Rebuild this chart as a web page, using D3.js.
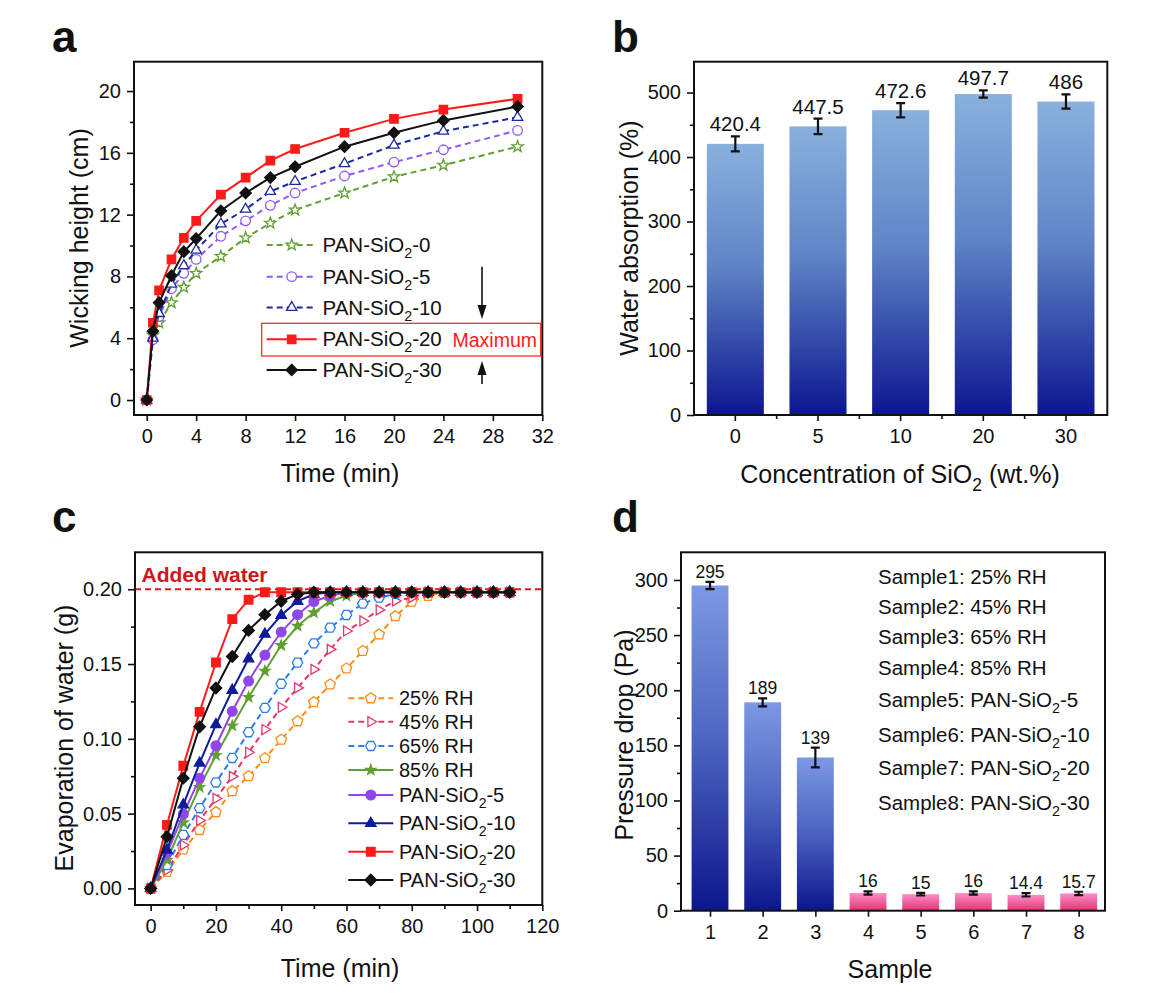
<!DOCTYPE html>
<html><head><meta charset="utf-8">
<script src="https://cdn.jsdelivr.net/npm/d3@7"></script>
<style>
body{margin:0;background:#fff}
svg{display:block}
text{font-family:"Liberation Sans",Arial,sans-serif;fill:#111}
</style>
</head><body>
<svg id="chart" width="1152" height="1000"></svg>
<script>
// ---------- DATA ----------
// panel a: wicking height (cm) vs time (min)
const wickTime = [0, 0.5, 1, 2, 3, 4, 6, 8, 10, 12, 16, 20, 24, 30];
const wick0  = [0, 4.2, 5.0, 6.3, 7.3, 8.2, 9.3, 10.5, 11.45, 12.3, 13.4, 14.45, 15.2, 16.4];
const wick5  = [0, 3.9, 5.4, 7.2, 8.2, 9.1, 10.6, 11.6, 12.6, 13.4, 14.5, 15.4, 16.2, 17.45];
const wick10 = [0, 4.0, 5.6, 7.5, 8.7, 9.7, 11.4, 12.35, 13.5, 14.15, 15.3, 16.5, 17.4, 18.3];
const wick20 = [0, 5.0, 7.1, 9.1, 10.5, 11.6, 13.3, 14.4, 15.5, 16.25, 17.3, 18.2, 18.8, 19.5];
const wick30 = [0, 4.45, 6.3, 8.05, 9.6, 10.45, 12.25, 13.4, 14.4, 15.1, 16.4, 17.3, 18.1, 19.0];
const wickLabels = ["PAN-SiO2-0", "PAN-SiO2-5", "PAN-SiO2-10", "PAN-SiO2-20", "PAN-SiO2-30"];

// panel b: water absorption (%)
const absCats = ["0", "5", "10", "20", "30"];
const absValues = [420.4, 447.5, 472.6, 497.7, 486];
const absErrors = [11.6, 12, 11, 5.7, 11];

// panel c: evaporation of water (g) vs time (min)
const evapTime = [0,5,10,15,20,25,30,35,40,45,50,55,60,65,70,75,80,85,90,95,100,105,110];
const rh25  = [0,0.011,0.026,0.039,0.051,0.065,0.075,0.087,0.0994,0.1117,0.1245,0.1363,0.147,0.1587,0.1698,0.182,0.1917,0.1956,0.198,0.198,0.198,0.198,0.198];
const rh45  = [0,0.0123,0.029,0.0454,0.0601,0.0749,0.091,0.1062,0.1211,0.1341,0.1464,0.1598,0.1721,0.1788,0.1862,0.1922,0.1944,0.198,0.198,0.198,0.198,0.198,0.198];
const rh65  = [0,0.0156,0.0358,0.0536,0.0708,0.0872,0.1044,0.1207,0.1368,0.1509,0.1638,0.1743,0.1828,0.1904,0.1944,0.197,0.198,0.198,0.198,0.198,0.198,0.198,0.198];
const rh85  = [0,0.019,0.044,0.0677,0.089,0.1088,0.1278,0.1453,0.1625,0.1754,0.1844,0.192,0.1956,0.198,0.198,0.198,0.198,0.198,0.198,0.198,0.198,0.198,0.198];
const pan5  = [0,0.0235,0.0496,0.0737,0.0954,0.1184,0.1386,0.156,0.1714,0.183,0.1918,0.1956,0.198,0.198,0.198,0.198,0.198,0.198,0.198,0.198,0.198,0.198,0.198];
const pan10 = [0,0.0257,0.0559,0.0838,0.1095,0.1325,0.1535,0.170,0.1826,0.192,0.1967,0.198,0.198,0.198,0.198,0.198,0.198,0.198,0.198,0.198,0.198,0.198,0.198];
const pan20 = [0,0.0425,0.082,0.118,0.151,0.18,0.193,0.198,0.198,0.198,0.198,0.198,0.198,0.198,0.198,0.198,0.198,0.198,0.198,0.198,0.198,0.198,0.198];
const pan30 = [0,0.0346,0.0737,0.108,0.134,0.155,0.1725,0.183,0.192,0.1967,0.198,0.198,0.198,0.198,0.198,0.198,0.198,0.198,0.198,0.198,0.198,0.198,0.198];
const evapLabels = ["25% RH", "45% RH", "65% RH", "85% RH", "PAN-SiO2-5", "PAN-SiO2-10", "PAN-SiO2-20", "PAN-SiO2-30"];
const addedWater = 0.2;

// panel d: pressure drop (Pa)
const samples = [1, 2, 3, 4, 5, 6, 7, 8];
const dropValues = [295, 189, 139, 16, 15, 16, 14.4, 15.7];
const dropErrors = [3.3, 3.6, 9, 1.5, 1.2, 1.5, 1.5, 1.5];
const dropLabels = ["295", "189", "139", "16", "15", "16", "14.4", "15.7"];
const sampleNotes = ["Sample1: 25% RH", "Sample2: 45% RH", "Sample3: 65% RH", "Sample4: 85% RH",
  "Sample5: PAN-SiO2-5", "Sample6: PAN-SiO2-10", "Sample7: PAN-SiO2-20", "Sample8: PAN-SiO2-30"];

// ---------- HELPERS ----------
const svg = d3.select("#chart");
const FF = '"Liberation Sans", Arial, sans-serif';
const TICK = 20;

function richText(g, x, y, str, size, opts = {}) {
  const t = g.append("text").attr("x", x).attr("y", y).attr("font-size", size);
  if (opts.anchor) t.attr("text-anchor", opts.anchor);
  if (opts.fill) t.style("fill", opts.fill);
  if (opts.weight) t.attr("font-weight", opts.weight);
  if (opts.transform) t.attr("transform", opts.transform);
  const segs = str.split("SiO2");
  segs.forEach((s, i) => {
    if (i > 0) {
      t.append("tspan").text("SiO");
      t.append("tspan").attr("dy", size * 0.3).attr("font-size", size * 0.7).text("2");
      t.append("tspan").attr("dy", -size * 0.3).text(s || "\u200B");
    } else if (s) t.append("tspan").text(s);
  });
  return t;
}

function poly(n, r, rot) {
  const pts = d3.range(n).map(i => {
    const a = rot + i * 2 * Math.PI / n;
    return [r * Math.cos(a), r * Math.sin(a)];
  });
  return "M" + pts.map(p => p.join(",")).join("L") + "Z";
}
function star(ro, ri) {
  const pts = d3.range(10).map(i => {
    const a = -Math.PI / 2 + i * Math.PI / 5;
    const r = i % 2 ? ri : ro;
    return [r * Math.cos(a), r * Math.sin(a)];
  });
  return "M" + pts.map(p => p.join(",")).join("L") + "Z";
}
function markerPath(type, s) {
  switch (type) {
    case "star": return star(s * 1.1, s * 0.45);
    case "circle": return d3.symbol(d3.symbolCircle, Math.PI * s * s * 0.78)();
    case "triUp": return poly(3, s * 1.1, -Math.PI / 2);
    case "triRight": return poly(3, s * 1.05, 0);
    case "square": return poly(4, s * 1.1, Math.PI / 4);
    case "diamond": return poly(4, s * 1.05, -Math.PI / 2);
    case "pentagon": return poly(5, s * 1.0, -Math.PI / 2);
    case "hexagon": return poly(6, s * 0.95, 0);
  }
}

function styleAxis(g, size) {
  g.attr("font-size", size).attr("font-family", FF);
  g.select(".domain").remove();
  g.selectAll(".tick line").attr("stroke", "#111").attr("stroke-width", 1.6);
  g.selectAll(".tick text").style("fill", "#111");
}

function frame(g, F) {
  g.append("rect").attr("x", F.L).attr("y", F.T).attr("width", F.R - F.L).attr("height", F.B - F.T)
    .attr("fill", "none").attr("stroke", "#111").attr("stroke-width", 2);
}

function panelLetter(x, y, s) {
  svg.append("text").attr("x", x).attr("y", y).attr("font-size", 44).attr("font-weight", "bold").text(s);
}

function yTitle(g, x, y, str, size) {
  richText(g, 0, 0, str, size, { anchor: "middle", transform: `translate(${x},${y}) rotate(-90)` });
}

// ========== PANEL A ==========
(function () {
  const F = { L: 134, R: 542.3, T: 61.7, B: 415 };
  const g = svg.append("g");
  const x = d3.scaleLinear().domain([-1.03, 32]).range([F.L, F.R]);
  const y = d3.scaleLinear().domain([-0.97, 21.9]).range([F.B, F.T]);

  g.append("g").attr("transform", `translate(0,${F.B})`)
    .call(d3.axisBottom(x).tickValues(d3.range(0, 33, 4)).tickSize(6).tickPadding(8))
    .call(a => styleAxis(a, TICK));
  g.append("g").attr("transform", `translate(${F.L},0)`)
    .call(d3.axisLeft(y).tickValues(d3.range(0, 21, 4)).tickSize(7).tickPadding(6))
    .call(a => styleAxis(a, TICK));
  g.append("g").attr("transform", `translate(${F.L},0)`)
    .call(d3.axisLeft(y).tickValues([2, 6, 10, 14, 18]).tickSize(4).tickFormat(""))
    .call(a => styleAxis(a, TICK));

  const series = [
    { v: wick0, color: "#5fa030", dash: "6,4", m: "star", fill: false },
    { v: wick5, color: "#8f5cf2", dash: "6,4", m: "circle", fill: false },
    { v: wick10, color: "#1c2a9c", dash: "6,4", m: "triUp", fill: false },
    { v: wick20, color: "#ff1a1a", dash: null, m: "square", fill: true },
    { v: wick30, color: "#111", dash: null, m: "diamond", fill: true },
  ];
  const line = d3.line().x((d, i) => x(wickTime[i])).y(d => y(d));
  series.forEach(s => {
    g.append("path").datum(s.v).attr("d", line).attr("fill", "none")
      .attr("stroke", s.color).attr("stroke-width", 2).attr("stroke-dasharray", s.dash);
    g.selectAll(null).data(s.v).enter().append("path")
      .attr("transform", (d, i) => `translate(${x(wickTime[i])},${y(d)})`)
      .attr("d", markerPath(s.m, 5.4))
      .attr("fill", s.fill ? s.color : "#fff").attr("stroke", s.color).attr("stroke-width", 1.3);
  });
  frame(g, F);

  // legend
  const rows = [245, 276.7, 307.5, 339.3, 370];
  series.forEach((s, i) => {
    const yy = rows[i];
    g.append("line").attr("x1", 266.7).attr("x2", 316.7).attr("y1", yy).attr("y2", yy)
      .attr("stroke", s.color).attr("stroke-width", 2).attr("stroke-dasharray", s.dash);
    g.append("path").attr("transform", `translate(291.7,${yy})`).attr("d", markerPath(s.m, 5.4))
      .attr("fill", s.fill ? s.color : "#fff").attr("stroke", s.color).attr("stroke-width", 1.3);
    richText(g, 322.5, yy + 7, wickLabels[i], 20.5);
  });
  g.append("rect").attr("x", 261.7).attr("y", 323.3).attr("width", 279).attr("height", 32.7)
    .attr("fill", "none").attr("stroke", "#ff1a1a").attr("stroke-width", 1.2);
  g.append("text").attr("x", 452.5).attr("y", 347).attr("font-size", 19.5).style("fill", "#ff1a1a").text("Maximum");
  // arrows
  g.append("line").attr("x1", 482).attr("x2", 482).attr("y1", 266.7).attr("y2", 306).attr("stroke", "#111").attr("stroke-width", 1.6);
  g.append("path").attr("d", "M477.5,305L486.5,305L482,319Z").attr("fill", "#111");
  g.append("line").attr("x1", 482).attr("x2", 482).attr("y1", 372).attr("y2", 384).attr("stroke", "#111").attr("stroke-width", 1.6);
  g.append("path").attr("d", "M477.5,375L486.5,375L482,361Z").attr("fill", "#111");

  yTitle(g, 88, 238, "Wicking height (cm)", 25);
  g.append("text").attr("x", 340).attr("y", 482).attr("text-anchor", "middle").attr("font-size", 25).text("Time (min)");
})();

// ========== PANEL B ==========
(function () {
  const F = { L: 694, R: 1107.3, T: 61.7, B: 415 };
  const g = svg.append("g");
  const x = d3.scaleBand().domain(absCats).range([F.L, F.R]).paddingInner(0.31).paddingOuter(0.155);
  const y = d3.scaleLinear().domain([0, 547.8]).range([F.B, F.T]);

  const defs = svg.append("defs");
  const grad = defs.append("linearGradient").attr("id", "gradB").attr("x1", 0).attr("x2", 0).attr("y1", 0).attr("y2", 1);
  grad.append("stop").attr("offset", "0%").attr("stop-color", "#8ab0de");
  grad.append("stop").attr("offset", "45%").attr("stop-color", "#6084c6");
  grad.append("stop").attr("offset", "100%").attr("stop-color", "#0c1690");

  g.selectAll(null).data(absValues).enter().append("rect")
    .attr("x", (d, i) => x(absCats[i])).attr("width", x.bandwidth())
    .attr("y", d => y(d)).attr("height", d => y(0) - y(d)).attr("fill", "url(#gradB)");

  absValues.forEach((d, i) => {
    const cx = x(absCats[i]) + x.bandwidth() / 2;
    const e = absErrors[i];
    g.append("path").attr("d", `M${cx},${y(d + e)}V${y(d - e)}M${cx - 4.5},${y(d + e)}H${cx + 4.5}M${cx - 4.5},${y(d - e)}H${cx + 4.5}`)
      .attr("stroke", "#111").attr("stroke-width", 2.2).attr("fill", "none");
    g.append("text").attr("x", cx).attr("y", y(d + e) - 5).attr("text-anchor", "middle").attr("font-size", 20.5).text(String(d));
  });

  g.append("g").attr("transform", `translate(0,${F.B})`)
    .call(d3.axisBottom(x).tickSize(6).tickPadding(8))
    .call(a => styleAxis(a, TICK));
  const bounds = absCats.slice(1).map(c => x(c) - x.step() * x.paddingInner() / 2);
  g.selectAll(null).data(bounds).enter().append("line")
    .attr("x1", d => d).attr("x2", d => d).attr("y1", F.B).attr("y2", F.B + 4)
    .attr("stroke", "#111").attr("stroke-width", 1.6);
  g.append("g").attr("transform", `translate(${F.L},0)`)
    .call(d3.axisLeft(y).tickValues(d3.range(0, 501, 100)).tickSize(7).tickPadding(6))
    .call(a => styleAxis(a, TICK));
  g.append("g").attr("transform", `translate(${F.L},0)`)
    .call(d3.axisLeft(y).tickValues(d3.range(50, 500, 100)).tickSize(4).tickFormat(""))
    .call(a => styleAxis(a, TICK));
  frame(g, F);

  yTitle(g, 638, 238, "Water absorption (%)", 25);
  richText(g, 900, 483, "Concentration of SiO2 (wt.%)", 25, { anchor: "middle" });
})();

// ========== PANEL C ==========
(function () {
  const F = { L: 135, R: 542.3, T: 552.3, B: 905 };
  const g = svg.append("g");
  const x = d3.scaleLinear().domain([-4.8, 120]).range([F.L, F.R]);
  const y = d3.scaleLinear().domain([-0.0111, 0.2247]).range([F.B, F.T]);

  g.append("g").attr("transform", `translate(0,${F.B})`)
    .call(d3.axisBottom(x).tickValues(d3.range(0, 121, 20)).tickSize(6).tickPadding(8))
    .call(a => styleAxis(a, TICK));
  g.append("g").attr("transform", `translate(0,${F.B})`)
    .call(d3.axisBottom(x).tickValues(d3.range(10, 120, 20)).tickSize(4).tickFormat(""))
    .call(a => styleAxis(a, TICK));
  g.append("g").attr("transform", `translate(${F.L},0)`)
    .call(d3.axisLeft(y).tickValues([0, 0.05, 0.1, 0.15, 0.2]).tickFormat(d3.format(".2f")).tickSize(7).tickPadding(6))
    .call(a => styleAxis(a, TICK));
  g.append("g").attr("transform", `translate(${F.L},0)`)
    .call(d3.axisLeft(y).tickValues([0.025, 0.075, 0.125, 0.175]).tickSize(4).tickFormat(""))
    .call(a => styleAxis(a, TICK));

  // added water reference
  g.append("line").attr("x1", F.L).attr("x2", F.R).attr("y1", y(addedWater)).attr("y2", y(addedWater))
    .attr("stroke", "#e3141e").attr("stroke-width", 2).attr("stroke-dasharray", "6,4");
  g.append("text").attr("x", 141.5).attr("y", 582).attr("font-size", 21).attr("font-weight", "bold")
    .style("fill", "#d0141c").text("Added water");

  const series = [
    { v: rh25, color: "#ff8c1a", dash: "6,4", m: "pentagon", fill: false },
    { v: rh45, color: "#e2386a", dash: "6,4", m: "triRight", fill: false },
    { v: rh65, color: "#2b7ce8", dash: "6,4", m: "hexagon", fill: false },
    { v: rh85, color: "#5fa030", dash: null, m: "star", fill: true },
    { v: pan5, color: "#9146ec", dash: null, m: "circle", fill: true },
    { v: pan10, color: "#0e1c9a", dash: null, m: "triUp", fill: true },
    { v: pan20, color: "#ff1a1a", dash: null, m: "square", fill: true },
    { v: pan30, color: "#111", dash: null, m: "diamond", fill: true },
  ];
  const line = d3.line().x((d, i) => x(evapTime[i])).y(d => y(d));
  series.forEach(s => {
    g.append("path").datum(s.v).attr("d", line).attr("fill", "none")
      .attr("stroke", s.color).attr("stroke-width", 2).attr("stroke-dasharray", s.dash);
    g.selectAll(null).data(s.v).enter().append("path")
      .attr("transform", (d, i) => `translate(${x(evapTime[i])},${y(d)})`)
      .attr("d", markerPath(s.m, s.m === "star" ? 4.8 : 5.5))
      .attr("fill", s.fill ? s.color : "#fff").attr("stroke", s.color).attr("stroke-width", 1.3);
  });
  frame(g, F);

  const rows = [698.3, 721.7, 746, 770, 795, 823.3, 851.7, 880];
  series.forEach((s, i) => {
    const yy = rows[i];
    g.append("line").attr("x1", 348.3).attr("x2", 393.3).attr("y1", yy).attr("y2", yy)
      .attr("stroke", s.color).attr("stroke-width", 2).attr("stroke-dasharray", s.dash);
    g.append("path").attr("transform", `translate(370.8,${yy})`).attr("d", markerPath(s.m, s.m === "star" ? 4.8 : 5.5))
      .attr("fill", s.fill ? s.color : "#fff").attr("stroke", s.color).attr("stroke-width", 1.3);
    richText(g, 399, yy + 7, evapLabels[i], 20);
  });

  yTitle(g, 73, 738, "Evaporation of water (g)", 25);
  g.append("text").attr("x", 340).attr("y", 977).attr("text-anchor", "middle").attr("font-size", 25).text("Time (min)");
})();

// ========== PANEL D ==========
(function () {
  const F = { L: 681, R: 1105, T: 552.3, B: 910.7 };
  const g = svg.append("g");
  const x = d3.scaleLinear().domain([0.449, 8.5]).range([F.L, F.R]);
  const y = d3.scaleLinear().domain([0, 325.1]).range([F.B, F.T]);
  const bw = 0.7 * (x(2) - x(1));

  const defs = svg.append("defs");
  const gb = defs.append("linearGradient").attr("id", "gradD1").attr("x1", 0).attr("x2", 0).attr("y1", 0).attr("y2", 1);
  gb.append("stop").attr("offset", "0%").attr("stop-color", "#7d98e4");
  gb.append("stop").attr("offset", "45%").attr("stop-color", "#5068c2");
  gb.append("stop").attr("offset", "100%").attr("stop-color", "#0b168c");
  const gp = defs.append("linearGradient").attr("id", "gradD2").attr("x1", 0).attr("x2", 0).attr("y1", 0).attr("y2", 1);
  gp.append("stop").attr("offset", "0%").attr("stop-color", "#ff8ccb");
  gp.append("stop").attr("offset", "100%").attr("stop-color", "#e2346f");

  g.selectAll(null).data(dropValues).enter().append("rect")
    .attr("x", (d, i) => x(samples[i]) - bw / 2).attr("width", bw)
    .attr("y", d => y(d)).attr("height", d => y(0) - y(d))
    .attr("fill", (d, i) => i < 3 ? "url(#gradD1)" : "url(#gradD2)");

  dropValues.forEach((d, i) => {
    const cx = x(samples[i]);
    const e = dropErrors[i];
    g.append("path").attr("d", `M${cx},${y(d + e)}V${y(d - e)}M${cx - 4.5},${y(d + e)}H${cx + 4.5}M${cx - 4.5},${y(d - e)}H${cx + 4.5}`)
      .attr("stroke", "#111").attr("stroke-width", 2.2).attr("fill", "none");
    g.append("text").attr("x", cx).attr("y", y(d + e) - 4).attr("text-anchor", "middle").attr("font-size", 17.5).text(dropLabels[i]);
  });

  g.append("g").attr("transform", `translate(0,${F.B})`)
    .call(d3.axisBottom(x).tickValues(samples).tickFormat(d3.format("d")).tickSize(6).tickPadding(8))
    .call(a => styleAxis(a, TICK));
  g.append("g").attr("transform", `translate(${F.L},0)`)
    .call(d3.axisLeft(y).tickValues(d3.range(0, 301, 50)).tickSize(7).tickPadding(6))
    .call(a => styleAxis(a, TICK));
  g.append("g").attr("transform", `translate(${F.L},0)`)
    .call(d3.axisLeft(y).tickValues(d3.range(25, 300, 50)).tickSize(4).tickFormat(""))
    .call(a => styleAxis(a, TICK));
  frame(g, F);

  const rows = [583.5, 613.5, 644, 675, 706.5, 741.5, 775, 809.5];
  sampleNotes.forEach((s, i) => richText(g, 878, rows[i], s, 20.5));

  yTitle(g, 633, 735, "Pressure drop (Pa)", 25);
  g.append("text").attr("x", 890).attr("y", 978).attr("text-anchor", "middle").attr("font-size", 25).text("Sample");
})();

panelLetter(52, 52, "a");
panelLetter(612, 52, "b");
panelLetter(52, 532, "c");
panelLetter(612, 532, "d");
</script>
</body></html>
